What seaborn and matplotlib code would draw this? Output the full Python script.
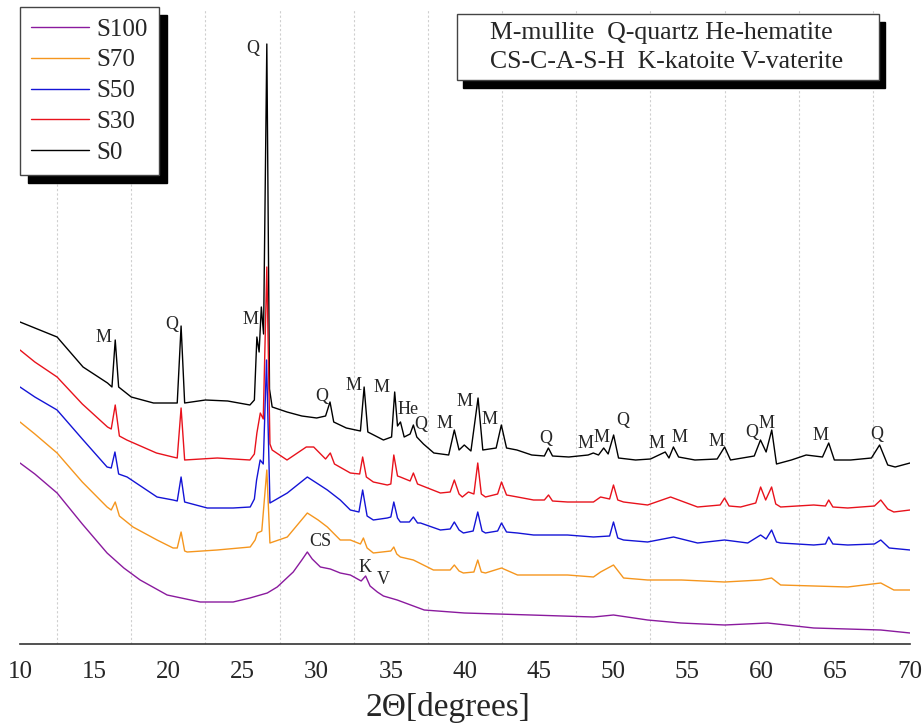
import numpy as np
import pandas as pd
import matplotlib
matplotlib.use('Agg')
import matplotlib.pyplot as plt
import seaborn as sns
from matplotlib.lines import Line2D
from matplotlib.patches import Rectangle
from matplotlib.ticker import MultipleLocator

# XRD patterns (2theta in degrees, intensity in a.u.)
s0_x = [10.0, 11.0, 12.5, 14.25, 15.9, 16.2, 16.42, 16.65, 17.5, 19.0, 20.6, 20.86, 21.1, 22.5, 24.0, 25.5,
        25.8, 25.97, 26.12, 26.27, 26.42, 26.64, 26.82, 27.0, 28.0, 29.0, 30.0, 30.6, 30.9, 31.15, 32.0,
        32.95, 33.2, 33.45, 34.5, 35.05, 35.26, 35.45, 35.65, 35.9, 36.3, 36.52, 36.75, 37.2, 37.9, 38.9,
        39.28, 39.6, 39.95, 40.4, 40.88, 41.2, 42.1, 42.45, 42.8, 43.5, 44.5, 45.35, 45.62, 45.9, 47.0,
        48.3, 48.65, 49.0, 49.35, 49.65, 50.02, 50.35, 51.5, 52.5, 53.5, 53.75, 54.05, 54.4, 55.5, 57.0,
        57.5, 57.9, 59.5, 59.92, 60.3, 60.68, 61.0, 62.0, 63.0, 64.1, 64.52, 64.9, 66.0, 67.4, 67.95,
        68.5, 69.0, 70.0]
s0_y = [322, 316, 307, 277, 261, 257, 304, 257, 247, 241, 241, 318, 241, 244, 243, 239,
        244, 307, 292, 337, 310, 600, 255, 237, 232, 228, 226, 228, 242, 222, 216,
        213, 257, 212, 204, 207, 252, 218, 222, 207, 210, 219, 207, 200, 191, 189,
        214, 194, 199, 193, 246, 194, 196, 219, 196, 194, 189, 188, 196, 188, 187,
        189, 191, 189, 196, 190, 209, 186, 184, 185, 192, 186, 197, 187, 184, 185,
        197, 184, 188, 204, 192, 214, 180, 184, 189, 187, 201, 184, 184, 186, 199,
        179, 177, 181]

s30_x = [10.0, 11.0, 12.5, 14.2, 15.9, 16.15, 16.42, 16.7, 17.2, 19.2, 20.3, 20.6, 20.86, 21.1, 23.3, 25.5,
         25.8, 25.97, 26.2, 26.4, 26.64, 26.85, 27.0, 28.0, 29.3, 29.8, 30.6, 30.92, 31.2, 32.27, 32.9,
         33.1, 33.35, 33.82, 34.76, 35.0, 35.2, 35.45, 35.64, 36.3, 36.52, 36.8, 38.34, 39.0, 39.28, 39.6,
         39.82, 40.23, 40.6, 40.86, 41.1, 41.38, 42.2, 42.46, 42.8, 43.54, 44.62, 45.35, 45.63, 45.9,
         46.91, 48.66, 49.14, 49.75, 50.01, 50.3, 50.69, 52.31, 53.86, 55.68, 57.2, 57.5, 57.8, 58.58,
         59.6, 59.93, 60.27, 60.67, 60.95, 61.28, 63.51, 64.3, 64.52, 64.8, 65.8, 67.6, 68.03, 68.5,
         68.91, 70.0]
s30_y = [294, 282, 267, 240, 217, 215, 239, 208, 204, 191, 187, 186, 236, 184, 186, 184,
         190, 211, 231, 225, 377, 200, 194, 184, 197, 197, 185, 191, 180, 171, 170,
         187, 167, 162, 159, 160, 189, 168, 167, 163, 171, 160, 151, 152, 164, 150,
         147, 152, 150, 181, 150, 147, 150, 162, 149, 147, 144, 144, 149, 143,
         142, 142, 147, 145, 159, 144, 142, 139, 147, 137, 139, 146, 138, 137,
         141, 157, 144, 157, 140, 137, 139, 138, 144, 137, 136, 138, 144, 135,
         132, 134]

s50_x = [10.0, 11.0, 12.5, 14.2, 15.87, 16.15, 16.4, 16.65, 17.22, 19.24, 20.32, 20.6, 20.86, 21.1, 22.62,
         24.37, 25.52, 25.8, 25.95, 26.19, 26.4, 26.62, 26.85, 28.02, 29.37, 30.1, 30.72, 31.59, 32.27,
         32.85, 33.1, 33.4, 33.82, 34.76, 35.0, 35.2, 35.45, 35.64, 36.25, 36.52, 36.8, 37.0, 38.34, 39.0,
         39.28, 39.6, 39.89, 40.55, 40.86, 41.15, 41.38, 42.2, 42.46, 42.8, 43.54, 44.62, 46.91, 48.66,
         49.75, 50.01, 50.3, 50.69, 52.31, 54.06, 55.68, 57.5, 59.06, 59.93, 60.3, 60.67, 61.0, 61.28,
         63.51, 64.3, 64.52, 64.8, 65.8, 67.6, 68.03, 68.6, 70.0]
s50_y = [257, 247, 234, 205, 177, 176, 192, 170, 167, 147, 144, 143, 167, 142, 136,
         136, 137, 145, 164, 184, 180, 284, 141, 151, 167, 160, 154, 144, 134,
         132, 154, 128, 124, 126, 127, 142, 126, 122, 122, 127, 121, 121, 114, 115,
         122, 114, 111, 113, 132, 113, 111, 113, 121, 112, 111, 109, 109, 107,
         108, 122, 106, 104, 102, 107, 101, 104, 101, 109, 105, 114, 102, 101,
         99, 100, 107, 100, 99, 100, 104, 96, 94]

s70_x = [10.0, 11.0, 12.5, 14.2, 15.87, 16.15, 16.42, 16.7, 17.62, 19.24, 20.32, 20.6, 20.86, 21.1, 21.27,
         23.29, 25.52, 25.85, 26.0, 26.3, 26.64, 26.85, 28.02, 29.37, 30.1, 30.72, 31.59, 32.27, 32.95,
         33.15, 33.4, 33.82, 35.0, 35.2, 35.4, 35.64, 36.52, 37.87, 39.0, 39.28, 39.6, 39.89, 40.6, 40.86,
         41.1, 41.38, 42.46, 43.54, 46.91, 48.66, 49.14, 50.01, 50.69, 52.31, 54.6, 57.5, 59.93, 60.67,
         61.28, 65.8, 68.03, 68.91, 70.0]
s70_y = [222, 210, 191, 162, 137, 134, 142, 128, 117, 104, 96, 96, 112, 93, 92,
         94, 97, 104, 111, 113, 174, 101, 107, 131, 124, 117, 104, 104, 100,
         106, 96, 91, 93, 97, 90, 87, 84, 74, 74, 79, 73, 71, 72, 84,
         72, 71, 76, 69, 69, 67, 72, 79, 66, 64, 64, 62, 64, 66,
         59, 57, 61, 54, 54]

s100_x = [10.0, 11.0, 12.5, 14.2, 15.87, 17.0, 18.1, 19.92, 22.15, 24.37, 25.5, 26.67, 27.34, 28.42, 29.0,
          29.37, 29.7, 30.25, 30.92, 31.59, 32.27, 33.0, 33.3, 33.6, 34.09, 34.5, 35.43, 37.25, 39.96,
          44.45, 48.66, 50.01, 52.31, 54.55, 57.5, 60.4, 63.51, 68.03, 70.0]
s100_y = [181, 170, 151, 120, 91, 76, 64, 49, 42, 42, 46, 51, 57, 72, 84,
          92, 85, 77, 75, 71, 69, 63, 68, 58, 52, 48, 44, 34, 31,
          29, 27, 29, 24, 21, 19, 21, 16, 14, 11]

samples = ['S0', 'S30', 'S50', 'S70', 'S100']
sample_colors = ['#000000', '#e8121c', '#1414d6', '#f5961e', '#8a1a9e']

# phase labels: text, 2theta, intensity
peak_labels = ['M', 'Q', 'M', 'Q', 'Q', 'M', 'M', 'He', 'Q', 'M', 'M', 'M', 'Q', 'M', 'M', 'Q',
               'M', 'M', 'M', 'Q', 'M', 'M', 'Q', 'CS', 'K', 'V']
label_x = [15.6, 20.26, 25.52, 25.72, 30.31, 32.47, 34.36, 36.18, 36.99, 38.61, 39.96, 41.65, 45.43,
           48.12, 49.2, 50.62, 52.91, 54.47, 56.96, 59.33, 60.34, 63.98, 67.76, 30.24, 33.28, 34.49]
label_y = [307, 319, 324, 596, 247, 259, 257, 234, 220, 220, 243, 225, 206,
           201, 206, 224, 201, 206, 203, 212, 220, 208, 209, 103, 76, 64]

phase_key = ['M-mullite  Q-quartz He-hematite', 'CS-C-A-S-H  K-katoite V-vaterite']

series = {'S0': (s0_x, s0_y), 'S30': (s30_x, s30_y), 'S50': (s50_x, s50_y),
          'S70': (s70_x, s70_y), 'S100': (s100_x, s100_y)}
df = pd.concat([pd.DataFrame({'two_theta': xs, 'intensity': ys, 'sample': k})
                for k, (xs, ys) in series.items()], ignore_index=True)

sns.set_style('white')
plt.rcParams['font.family'] = ['Liberation Serif', 'DejaVu Serif']

W, H = 923, 728
fig = plt.figure(figsize=(W / 100, H / 100), dpi=100)
ax = fig.add_axes([20 / W, 84 / H, 890 / W, 634 / H])

sns.lineplot(data=df, x='two_theta', y='intensity', hue='sample', hue_order=samples,
             palette=sample_colors, sort=False, estimator=None, lw=1.0, legend=False, ax=ax)

ax.set_xlim(10, 70)
ax.set_ylim(0, 634)
ax.set_yticks([])
ax.set_ylabel('')
for s in ['left', 'right', 'top']:
    ax.spines[s].set_visible(False)
ax.spines['bottom'].set_color('#333333')
ax.spines['bottom'].set_linewidth(1.2)
ax.xaxis.set_major_locator(MultipleLocator(5))
ax.xaxis.set_minor_locator(MultipleLocator(2.5))
ax.tick_params(axis='x', which='major', direction='out', length=8, width=1.2, color='#333333',
               labelsize=18, pad=4)
ax.tick_params(axis='x', which='minor', direction='out', length=4.5, width=1.2, color='#333333')
ax.grid(False)
ax.xaxis.grid(True, which='minor', color='#cfcfcf', ls=(0, (2, 2)), lw=0.8)
ax.set_xlabel('2Θ[degrees]', fontsize=24, labelpad=7)
ax.xaxis.set_label_coords(0.481, -0.075)

for t, x, y in zip(peak_labels, label_x, label_y):
    ax.text(x, y, t, fontsize=13, ha='center', va='center')

# sample legend with a hard black shadow
handles = [Line2D([], [], color=c, lw=1.0) for c in sample_colors][::-1]
leg = ax.legend(handles, samples[::-1], loc='upper left', bbox_to_anchor=(20 / W, 1 - 7 / H),
                bbox_transform=fig.transFigure, borderaxespad=0, fontsize=18, frameon=True,
                fancybox=False, edgecolor='#444444', framealpha=1, handlelength=2.3,
                handletextpad=0.3, labelspacing=0.33, borderpad=0.45,
                shadow={'ox': 6, 'oy': -6, 'facecolor': 'k', 'edgecolor': 'k', 'alpha': 1})
leg.get_frame().set_linewidth(1.0)

# phase key box
fig.patches.append(Rectangle((463 / W, 1 - 88 / H), 422 / W, 66 / H, transform=fig.transFigure,
                             facecolor='k', edgecolor='k', zorder=5))
fig.patches.append(Rectangle((457 / W, 1 - 80 / H), 422 / W, 66 / H, transform=fig.transFigure,
                             facecolor='white', edgecolor='#444444', lw=1.0, zorder=6))
fig.text(490 / W, 1 - 33 / H, phase_key[0], fontsize=18.5, ha='left', va='center', zorder=7)
fig.text(490 / W, 1 - 62 / H, phase_key[1], fontsize=18.5, ha='left', va='center', zorder=7)

fig.savefig('out.png', dpi=100)
